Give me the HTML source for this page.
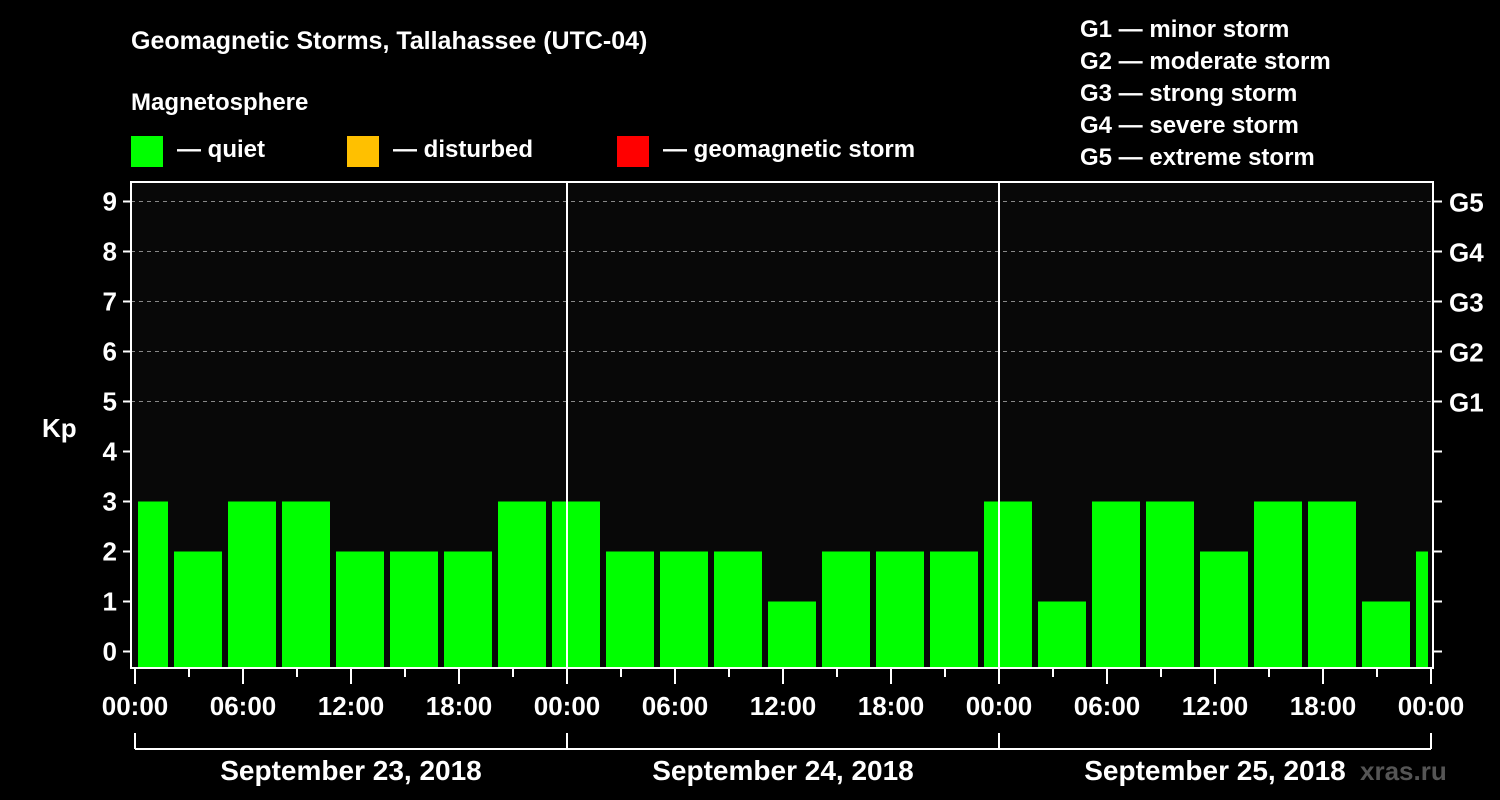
<!DOCTYPE html>
<html><head><meta charset="utf-8"><style>
body{margin:0;background:#000;width:1500px;height:800px;overflow:hidden}
svg{display:block;font-family:"Liberation Sans",sans-serif;font-weight:bold}
</style></head><body>
<svg id="c" width="1500" height="800">
<rect width="1500" height="800" fill="#000"/>
<text x="131" y="49" fill="#fff" font-size="25">Geomagnetic Storms, Tallahassee (UTC-04)</text>
<text x="131" y="110" fill="#fff" font-size="24">Magnetosphere</text>
<g><rect x="131" y="136" width="32" height="31" fill="#00ff00"/><text x="177" y="157" fill="#fff" font-size="24">— quiet</text></g>
<g><rect x="347" y="136" width="32" height="31" fill="#ffc000"/><text x="393" y="157" fill="#fff" font-size="24">— disturbed</text></g>
<g><rect x="617" y="136" width="32" height="31" fill="#ff0000"/><text x="663" y="157" fill="#fff" font-size="24">— geomagnetic storm</text></g>
<g fill="#fff" font-size="24">
<text x="1080" y="37">G1 — minor storm</text><text x="1080" y="69">G2 — moderate storm</text><text x="1080" y="101">G3 — strong storm</text><text x="1080" y="133">G4 — severe storm</text><text x="1080" y="165">G5 — extreme storm</text></g>
<text x="42" y="437" fill="#fff" font-size="26">Kp</text>
<text x="1360" y="780" fill="#555" font-size="26">xras.ru</text>
<g id="plot"></g>
</svg>
<script>
const values=[3,2,3,3,2,2,2,3,3,2,2,2,1,2,2,2,3,1,3,3,2,3,3,1,2];
const yTicks=[0,1,2,3,4,5,6,7,8,9];
const gLabels=["G1","G2","G3","G4","G5"];
const xTickLabels=["00:00","06:00","12:00","18:00","00:00","06:00","12:00","18:00","00:00","06:00","12:00","18:00","00:00"];
const dates=["September 23, 2018","September 24, 2018","September 25, 2018"];
const NS="http://www.w3.org/2000/svg";
const g=document.getElementById('plot');
const X0=135,PX_H=18,Y0=651.5,PX_K=50,TOP=182,BOT=668,L=131,R=1433;
const x=h=>X0+h*PX_H, y=v=>Y0-v*PX_K;
function mk(t,a,p){const e=document.createElementNS(NS,t);for(const k in a)e.setAttribute(k,a[k]);(p||g).appendChild(e);return e;}
mk('rect',{x:L,y:TOP,width:R-L,height:BOT-TOP,fill:'#080808'});
for(let v=5;v<=9;v++){const l=mk('line',{x1:L,x2:R,y1:y(v),y2:y(v),stroke:'#888','stroke-dasharray':'4,4','stroke-width':1});

}
values.forEach((v,k)=>{let h0=-1+3*k,h1=h0+3;h0=Math.max(0,h0);h1=Math.min(72,h1);
const r=mk('rect',{x:x(h0)+3,y:y(v),width:x(h1)-x(h0)-6,height:BOT-y(v),fill:'#00ff00'});

});
[24,48].forEach(h=>{const l=mk('line',{x1:x(h),x2:x(h),y1:TOP,y2:BOT,stroke:'#fff','stroke-width':2});

});
const fr=mk('rect',{x:L,y:TOP,width:R-L,height:BOT-TOP,fill:'none',stroke:'#fff','stroke-width':2});


yTicks.forEach(v=>{mk('line',{x1:L-8,x2:L,y1:y(v),y2:y(v),stroke:'#fff','stroke-width':2});
mk('line',{x1:R,x2:R+9,y1:y(v),y2:y(v),stroke:'#fff','stroke-width':2});
const t=mk('text',{x:L-14,y:y(v)+9,fill:'#fff','font-size':26,'text-anchor':'end'});t.textContent=v;

});
gLabels.forEach((s,i)=>{const t=mk('text',{x:1449,y:y(i+5)+10,fill:'#fff','font-size':26});t.textContent=s;

});
for(let h=0;h<=72;h+=3){mk('line',{x1:x(h),x2:x(h),y1:BOT,y2:BOT+(h%6?9:16),stroke:'#fff','stroke-width':2});}
xTickLabels.forEach((s,i)=>{const t=mk('text',{x:x(i*6),y:715,fill:'#fff','font-size':26,'text-anchor':'middle'});t.textContent=s;

});
mk('line',{x1:x(0),x2:x(72),y1:749,y2:749,stroke:'#fff','stroke-width':2});
for(let d=0;d<=3;d++)mk('line',{x1:x(d*24),x2:x(d*24),y1:733,y2:749,stroke:'#fff','stroke-width':2});
dates.forEach((s,i)=>{const t=mk('text',{x:x(i*24+12),y:780,fill:'#fff','font-size':28,'text-anchor':'middle'});t.textContent=s;

});
</script>
</body></html>
